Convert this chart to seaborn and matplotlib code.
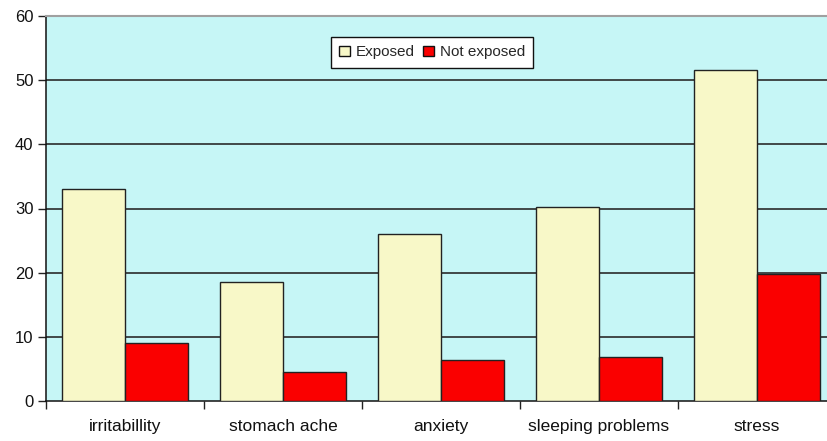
import matplotlib
matplotlib.use("Agg")
import matplotlib.pyplot as plt
from matplotlib.patches import Patch
import seaborn as sns
import pandas as pd

categories = ["irritabillity", "stomach ache", "anxiety", "sleeping problems", "stress"]
exposed = [33.0, 18.6, 26.0, 30.3, 51.6]
not_exposed = [9.0, 4.5, 6.4, 6.9, 19.8]
series = ["Exposed", "Not exposed"]
y_ticks = [0, 10, 20, 30, 40, 50, 60]

colors = {"Exposed": "#F8F8C8", "Not exposed": "#FA0000"}
bg = "#C6F6F6"

df = pd.DataFrame({
    "symptom": categories * 2,
    "group": [series[0]] * len(categories) + [series[1]] * len(categories),
    "value": exposed + not_exposed,
})

sns.set_style("white")
plt.rcParams["font.family"] = ["Liberation Sans", "DejaVu Sans"]

fig = plt.figure(figsize=(8.27, 4.41), dpi=100)
ax = fig.add_axes([46 / 827, 40 / 441, 790 / 827, 385 / 441])
ax.set_facecolor(bg)

sns.barplot(data=df, x="symptom", y="value", hue="group", order=categories,
            hue_order=series, palette=colors, saturation=1, width=0.8,
            edgecolor="#222222", linewidth=1.0, ax=ax, legend=False, zorder=3)

ax.set_xlim(-0.5, len(categories) - 0.5)
ax.set_ylim(0, 60)
ax.set_yticks(y_ticks)
ax.set_xlabel("")
ax.set_ylabel("")

# horizontal gridlines
for y in y_ticks[1:-1]:
    ax.axhline(y, color="#2a2a2a", linewidth=1.2, zorder=1)

# category boundary ticks (major) and labels centered (minor)
ax.set_xticks([i - 0.5 for i in range(len(categories) + 1)])
ax.set_xticklabels([])
ax.set_xticks(range(len(categories)), minor=True)
ax.set_xticklabels(categories, minor=True)
ax.tick_params(axis="x", which="major", direction="out", length=6, width=1,
               color="#222222", bottom=True)
ax.tick_params(axis="x", which="minor", length=0, pad=13, labelsize=12.5,
               colors="#111111")
ax.tick_params(axis="y", direction="out", length=6, width=1, color="#222222",
               left=True, pad=3, labelsize=12, labelcolor="#111111")

for side in ("left", "bottom"):
    ax.spines[side].set_color("#111111")
    ax.spines[side].set_linewidth(1.1)
ax.spines["top"].set_color("#a0a0a0")
ax.spines["top"].set_linewidth(1.5)
ax.spines["right"].set_visible(False)

handles = [Patch(facecolor=colors[s], edgecolor="#111111", linewidth=1.0, label=s)
           for s in series]
leg = ax.legend(handles=handles, loc="upper left", bbox_to_anchor=(285 / 790, 1 - 21 / 385),
                ncol=2, frameon=True, fancybox=False, fontsize=11,
                handlelength=0.7, handleheight=0.7, handletextpad=0.4,
                columnspacing=0.5, borderpad=0.55, borderaxespad=0.0)
leg.get_frame().set_edgecolor("#111111")
leg.get_frame().set_linewidth(1.0)
leg.get_frame().set_facecolor("white")
leg.get_frame().set_alpha(1.0)

fig.savefig("out.png", dpi=100)
